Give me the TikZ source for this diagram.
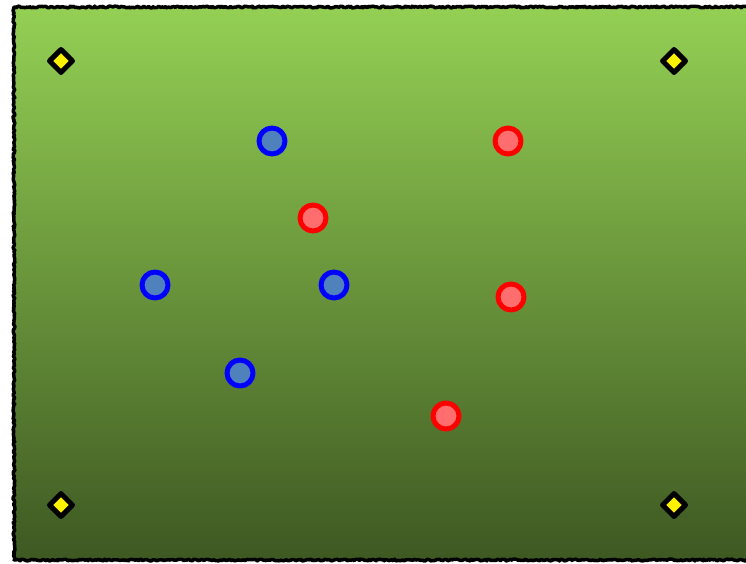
\documentclass[tikz,border=0pt]{standalone}
\usepackage{tikz}
\usetikzlibrary{shapes.geometric,decorations.pathmorphing}

\definecolor{pitchtop}{RGB}{148,208,84}
\definecolor{pitchbot}{RGB}{62,88,34}
\definecolor{bluefill}{RGB}{79,129,189}
\definecolor{redfill}{RGB}{255,110,110}

\tikzset{
  bluedot/.style={circle, draw=blue, fill=bluefill, line width=5pt, minimum size=26pt, inner sep=0pt},
  reddot/.style={circle, draw=red, fill=redfill, line width=5pt, minimum size=26pt, inner sep=0pt},
  cone/.style={diamond, draw=black, fill=yellow, line width=5pt, minimum size=25pt, inner sep=0pt, aspect=1},
}

\begin{document}
\begin{tikzpicture}[x=1pt, y=-1pt, line join=round]

  \useasboundingbox (0,0) rectangle (746,564);
  \clip (0,0) rectangle (746,564);

  %% ════ 场地（渐变 + 毛边框）════
  \shade[top color=pitchtop, bottom color=pitchbot] (14,7) rectangle (780,560);
  \draw[line width=3.5pt, decorate, decoration={random steps, segment length=1.5pt, amplitude=0.9pt}]
    (14,7) rectangle (780,560);

  %% ════ 四角标志 ════
  \node[cone] (c1) at (61,61) {};
  \node[cone] (c2) at (674,61) {};
  \node[cone] (c3) at (61,505) {};
  \node[cone] (c4) at (674,505) {};

  %% ════ 蓝方 ════
  \node[bluedot] (b1) at (272,141) {};
  \node[bluedot] (b2) at (155,285) {};
  \node[bluedot] (b3) at (334,285) {};
  \node[bluedot] (b4) at (240,373) {};

  %% ════ 红方 ════
  \node[reddot] (r1) at (508,141) {};
  \node[reddot] (r2) at (313,218) {};
  \node[reddot] (r3) at (511,297) {};
  \node[reddot] (r4) at (446,416) {};

\end{tikzpicture}
\end{document}
